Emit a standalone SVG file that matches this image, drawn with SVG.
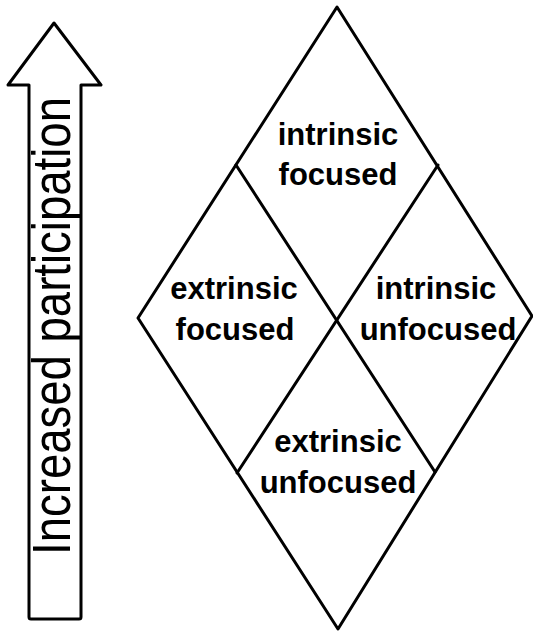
<svg xmlns="http://www.w3.org/2000/svg" width="533" height="631" viewBox="0 0 533 631">
<style>
.ln{fill:none;stroke:#000;stroke-width:3;stroke-linejoin:round;stroke-linecap:round}
.t{font-family:"Liberation Sans",Arial,sans-serif;font-weight:bold;font-size:31px;fill:#000;text-anchor:middle}
.at{font-family:"Liberation Sans",Arial,sans-serif;font-size:54px;fill:#000}
</style>
<rect width="533" height="631" fill="#fff"/>
<g id="arrow">
<path class="ln" d="M54,23 L101,85 L81,85 L81,617 Q81,619 79,619 L31,619 Q29,619 29,617 L29,85 L8,85 Z"/>
<text class="at" transform="translate(70,555) rotate(-90)" textLength="458" lengthAdjust="spacingAndGlyphs">Increased participation</text>
</g>
<g id="connectors">
<path class="ln" d="M337,7 L532,316 L338,629 L138,318 Z"/>
<line class="ln" x1="236" y1="165" x2="435" y2="472"/>
<line class="ln" x1="438" y1="165" x2="237" y2="473"/>
</g>
<g id="intrinsic-focused">
<text class="t" x="338" y="145">intrinsic</text>
<text class="t" x="338" y="185">focused</text>
</g>
<g id="extrinsic-focused">
<text class="t" x="234" y="299">extrinsic</text>
<text class="t" x="235" y="340">focused</text>
</g>
<g id="intrinsic-unfocused">
<text class="t" x="436" y="299">intrinsic</text>
<text class="t" x="438" y="340">unfocused</text>
</g>
<g id="extrinsic-unfocused">
<text class="t" x="338" y="452">extrinsic</text>
<text class="t" x="338" y="493">unfocused</text>
</g>
</svg>
